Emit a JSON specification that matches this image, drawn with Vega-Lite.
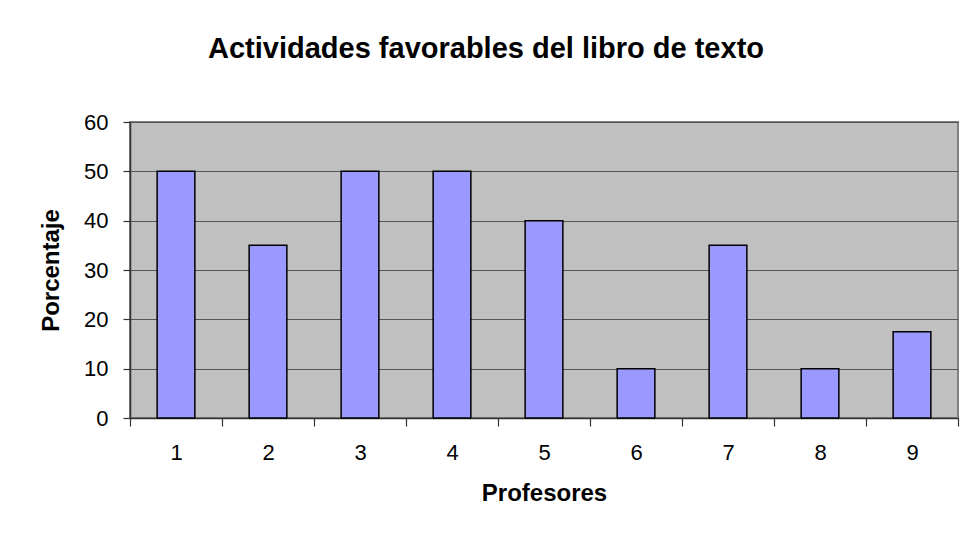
{
  "$schema": "https://vega.github.io/schema/vega-lite/v6.json",
  "width": 828,
  "height": 296,
  "autosize": {"type": "none"},
  "padding": {"left": 130, "top": 122, "right": 11, "bottom": 119},
  "background": "white",
  "title": {
    "text": "Actividades favorables del libro de texto",
    "font": "Liberation Sans",
    "fontSize": 29,
    "fontWeight": "bold",
    "color": "black",
    "anchor": "middle",
    "frame": "group",
    "dx": -58,
    "offset": 47
  },
  "data": {
    "values": [
      {"Profesor": "1", "Porcentaje": 50},
      {"Profesor": "2", "Porcentaje": 35},
      {"Profesor": "3", "Porcentaje": 50},
      {"Profesor": "4", "Porcentaje": 50},
      {"Profesor": "5", "Porcentaje": 40},
      {"Profesor": "6", "Porcentaje": 10},
      {"Profesor": "7", "Porcentaje": 35},
      {"Profesor": "8", "Porcentaje": 10},
      {"Profesor": "9", "Porcentaje": 17.5}
    ]
  },
  "mark": {"type": "bar", "fill": "#9999FF", "stroke": "black", "strokeWidth": 1.5, "width": {"band": 0.41}},
  "encoding": {
    "x": {
      "field": "Profesor",
      "type": "ordinal",
      "scale": {"paddingInner": 0, "paddingOuter": 0},
      "axis": {
        "title": "Profesores",
        "labelAngle": 0,
        "tickBand": "extent",
        "tickSize": 8,
        "labelPadding": 16,
        "titlePadding": 18
      }
    },
    "y": {
      "field": "Porcentaje",
      "type": "quantitative",
      "scale": {"domain": [0, 60]},
      "axis": {
        "title": "Porcentaje",
        "values": [0, 10, 20, 30, 40, 50, 60],
        "grid": true,
        "tickSize": 7,
        "labelPadding": 15,
        "titleX": -67,
        "titleY": 148
      }
    }
  },
  "config": {
    "view": {"fill": "#C0C0C0", "stroke": "#808080", "strokeWidth": 2},
    "axis": {
      "labelFont": "Liberation Sans",
      "labelFontSize": 22,
      "labelColor": "black",
      "titleFont": "Liberation Sans",
      "titleFontSize": 24,
      "titleFontWeight": "bold",
      "titleColor": "black",
      "domainColor": "#333333",
      "domainWidth": 1.5,
      "tickColor": "#333333",
      "tickWidth": 1.2,
      "gridColor": "#555555",
      "gridWidth": 1.2
    }
  }
}
